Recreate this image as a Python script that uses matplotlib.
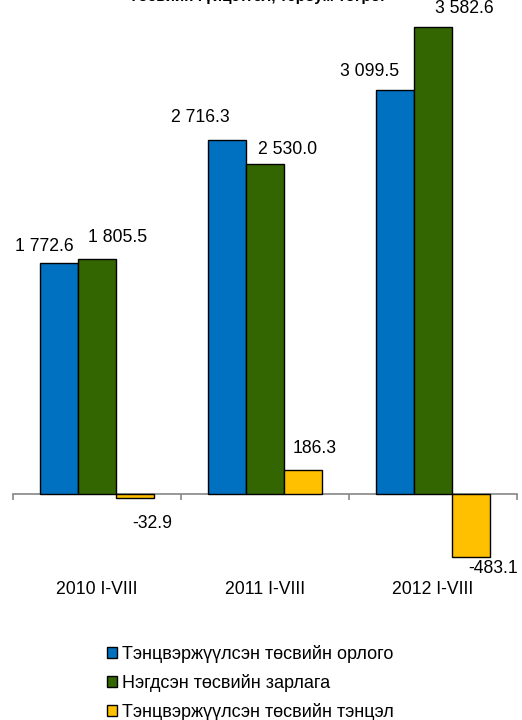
import matplotlib
matplotlib.use("Agg")
import matplotlib.pyplot as plt
from matplotlib.patches import Patch

# Budget figures, billion MNT
periods = ["2010 I-VIII", "2011 I-VIII", "2012 I-VIII"]
series_names = [
    "Тэнцвэржүүлсэн төсвийн орлого",
    "Нэгдсэн төсвийн зарлага",
    "Тэнцвэржүүлсэн төсвийн тэнцэл",
]
revenue = [1772.6, 2716.3, 3099.5]
expenditure = [1805.5, 2530.0, 3582.6]
balance = [-32.9, 186.3, -483.1]
colors = ["#0070C0", "#336600", "#FFC000"]

# Data-label nudges (pixels) relative to each bar end, per series
label_nudges = [
    [(-14, 16), (-26, 22), (-25, 18)],
    [(21, 21), (23, 15), (31, 18)],
    [(18, -25), (12, 21), (22, -12)],
]


def fmt(v):
    s = f"{abs(v):,.1f}".replace(",", " ")
    return ("-" if v < 0 else "") + s


plt.rcParams["font.family"] = ["Liberation Sans", "DejaVu Sans"]

W, H = 522, 720
fig = plt.figure(figsize=(W / 100, H / 100), dpi=100)
ax = fig.add_axes([12.5 / W, (H - 600) / H, (517 - 12.5) / W, 600 / H])

bar_w = 0.226
series = [revenue, expenditure, balance]
x = list(range(len(periods)))
for k, (vals, col) in enumerate(zip(series, colors)):
    xs = [i + (k - 1) * bar_w for i in x]
    bars = ax.bar(xs, vals, width=bar_w, color=col, edgecolor="black",
                  linewidth=1.0, zorder=3)
    for b, v, (dx, dy) in zip(bars, vals, label_nudges[k]):
        ax.annotate(fmt(v), (b.get_x() + b.get_width() / 2, v),
                    xytext=(dx, dy), textcoords="offset pixels",
                    ha="center", va="center", fontsize=12.7, color="black")

ax.set_xlim(-0.5, 2.5)
ax.set_ylim(-812.9, 3788.3)

for s in ["top", "left", "right"]:
    ax.spines[s].set_visible(False)
ax.spines["bottom"].set_position(("data", 0))
ax.spines["bottom"].set_color("#868686")
ax.spines["bottom"].set_linewidth(1.2)
ax.set_yticks([])
ax.set_xticks(x)
ax.set_xticklabels(periods, fontsize=12.7)
ax.set_xticks([-0.5, 0.5, 1.5, 2.5], minor=True)
ax.tick_params(axis="x", which="major", length=0, pad=63)
ax.tick_params(axis="x", which="minor", length=4.5, width=1.2, color="#868686")

# Chart heading, sitting at the very top edge of the canvas
fig.text(0.494, 1 - 0.6 / H, "Төсвийн гүйцэтгэл, тэрбум төгрөг",
         ha="center", va="baseline", fontsize=11, fontweight="bold")

handles = [Patch(facecolor=c, edgecolor="black", linewidth=1.0) for c in colors]
fig.legend(handles, series_names, loc="upper left",
           bbox_to_anchor=(107 / W, 1 - 645 / H), frameon=False,
           handlelength=0.55, handleheight=0.55, handletextpad=0.3,
           labelspacing=0.6, borderpad=0, borderaxespad=0, fontsize=13)

fig.savefig("out.png", dpi=100)
